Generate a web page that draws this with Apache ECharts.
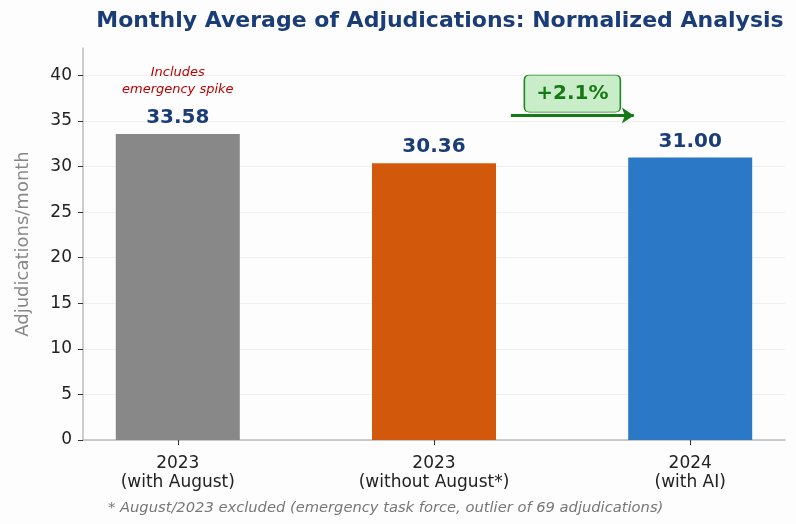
<!DOCTYPE html>
<html><head><meta charset="utf-8">
<script src="https://cdn.jsdelivr.net/npm/echarts@6/dist/echarts.min.js"></script>
<style>html,body{margin:0;padding:0;background:#fdfdfd}#c{width:796px;height:524px}</style>
</head><body><div id="c"></div>
<script>
const categories = ['2023\n(with August)', '2023\n(without August*)', '2024\n(with AI)'];
const values = [33.58, 30.36, 31.00];
const barColors = ['#888888', '#d2580b', '#2b79c6'];
const yTicks = [0, 5, 10, 15, 20, 25, 30, 35, 40];
const changeText = '+2.1%';
const noteText = 'Includes\nemergency spike';
const footnote = '* August/2023 excluded (emergency task force, outlier of 69 adjudications)';

const chart = echarts.init(document.getElementById('c'));
const font = 'DejaVu Sans';
chart.setOption({
  backgroundColor: '#fdfdfd',
  animation: false,
  title: {
    text: 'Monthly Average of Adjudications: Normalized Analysis',
    left: 435, top: 5, textAlign: 'center',
    textStyle: { fontFamily: font, fontSize: 22, fontWeight: 'bold', color: '#1a3d78' }
  },
  graphic: [{
    type: 'text', left: 108, top: 501,
    style: { text: footnote, font: 'italic 14.7px "DejaVu Sans"', fill: '#777777' }
  }],
  grid: { left: 83, right: 11, top: 48, bottom: 84 },
  xAxis: {
    type: 'value', min: -0.37, max: 2.37,
    axisLine: { lineStyle: { color: '#bbbbbb', width: 1.5 } },
    axisTick: { customValues: [0, 1, 2], length: 5, lineStyle: { color: '#333' } },
    axisLabel: {
      customValues: [0, 1, 2], formatter: v => categories[Math.round(v)],
      fontFamily: font, fontSize: 17, color: '#222', lineHeight: 19, margin: 14
    },
    splitLine: { show: false }
  },
  yAxis: {
    type: 'value', min: 0, max: 43,
    name: 'Adjudications/month', nameLocation: 'middle', nameGap: 51,
    nameTextStyle: { fontFamily: font, fontSize: 18, color: '#888888' },
    axisLine: { show: true, onZero: false, lineStyle: { color: '#bbbbbb', width: 1.5 } },
    axisTick: { show: true, customValues: yTicks, length: 5, lineStyle: { color: '#333' } },
    axisLabel: { customValues: yTicks, fontFamily: font, fontSize: 17, color: '#222', margin: 11 },
    splitLine: { show: true, lineStyle: { color: '#f0f0f0' } }
  },
  series: [{
    type: 'bar',
    barWidth: 124,
    data: values.map((v, i) => ({ value: [i, v], itemStyle: { color: barColors[i] } })),
    label: {
      show: true, position: 'top', distance: 6,
      formatter: p => p.value[1].toFixed(2),
      fontFamily: font, fontSize: 20, fontWeight: 'bold', color: '#1a3d78'
    },
    markPoint: {
      silent: true,
      data: [
        { coord: [0, 39.4], symbol: 'circle', symbolSize: 0,
          label: { show: true, position: 'inside', formatter: noteText,
            fontFamily: font, fontSize: 13, fontStyle: 'italic', color: '#c00000', lineHeight: 17 } },
        { coord: [1.54, 38.0], symbol: 'path://M5,0 H91 Q96,0 96,5 V32 Q96,37 91,37 H5 Q0,37 0,32 V5 Q0,0 5,0 Z',
          symbolSize: [96, 37], symbolKeepAspect: false,
          itemStyle: { color: '#c9ecc9', borderColor: '#1e8a1e', borderWidth: 1 },
          label: { show: true, position: 'inside', formatter: changeText,
            fontFamily: font, fontSize: 20, fontWeight: 'bold', color: '#157a15' } }
      ]
    },
    markLine: {
      silent: true, symbol: ['none', 'arrow'], symbolSize: 12,
      label: { show: false },
      lineStyle: { color: '#157a15', width: 3, type: 'solid' },
      data: [[{ coord: [1.30, 35.6] }, { coord: [1.78, 35.6] }]]
    }
  }]
});
</script></body></html>
